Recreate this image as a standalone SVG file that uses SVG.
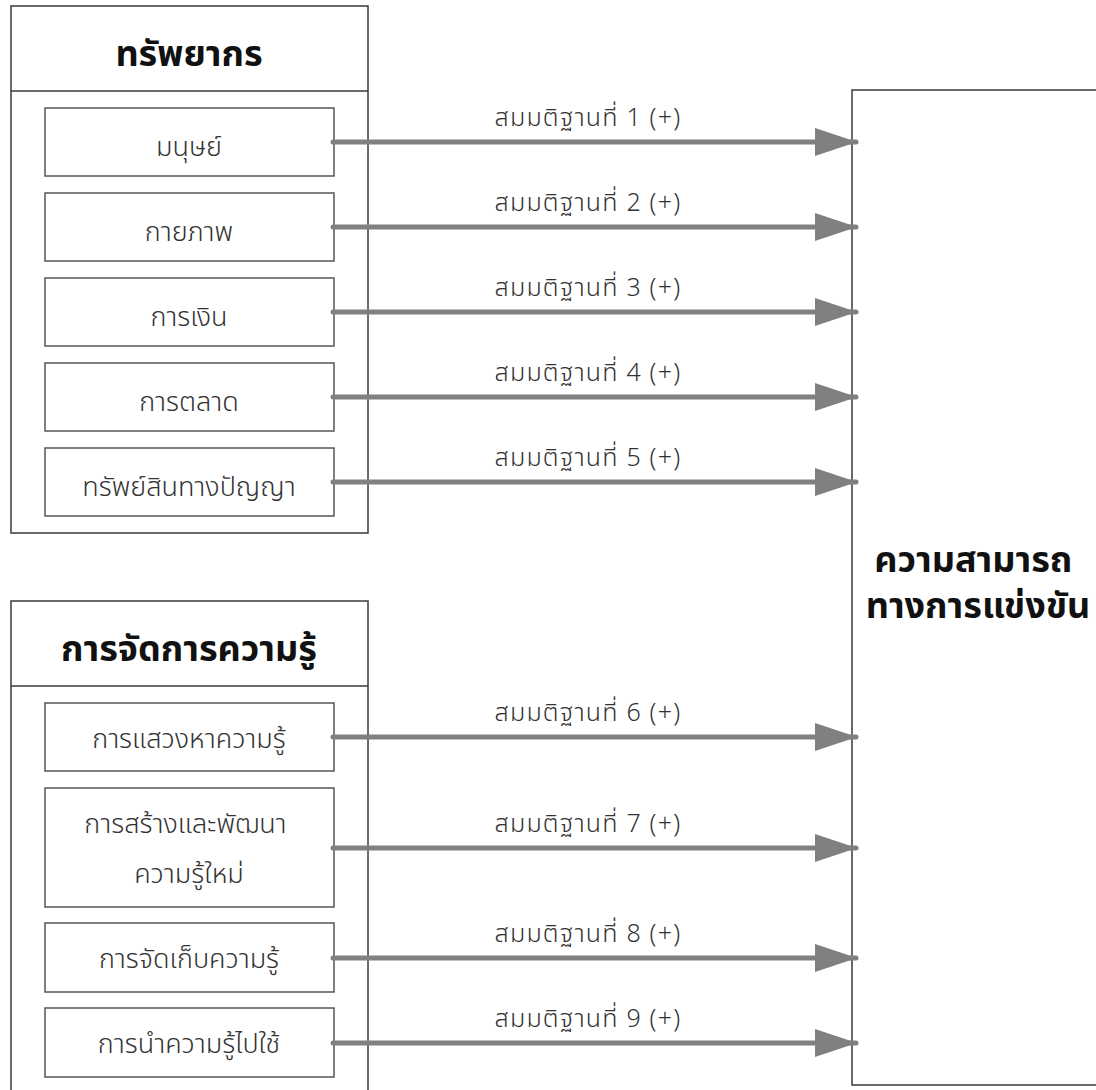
<svg xmlns="http://www.w3.org/2000/svg" width="1096" height="1090" viewBox="0 0 1096 1090">
  <defs>
    <style>
      .frame { fill: #ffffff; stroke: #3a3a3a; stroke-width: 1.5; }
      .item { fill: #ffffff; stroke: #555555; stroke-width: 1.5; }
      .title { font-family: "Noto Sans Thai", "Noto Sans", "DejaVu Sans", sans-serif; font-size: 36px; font-weight: bold; fill: #111111; text-anchor: middle; }
      .label { font-family: "Noto Sans Thai", "Noto Sans", "DejaVu Sans", sans-serif; font-size: 27px; font-weight: 300; fill: #333333; text-anchor: middle; }
      .hyp { font-family: "Noto Sans Thai", "Noto Sans", "DejaVu Sans", sans-serif; font-size: 25px; font-weight: 300; letter-spacing: 1.2px; fill: #333333; text-anchor: middle; }
      .big { font-family: "Noto Sans Thai", "Noto Sans", "DejaVu Sans", sans-serif; font-size: 36px; font-weight: bold; fill: #111111; text-anchor: middle; }
      .shaft { stroke: #808080; stroke-width: 5; stroke-linecap: round; fill: none; }
    </style>
    <marker id="head" viewBox="0 0 42 28" refX="41" refY="14" markerWidth="42" markerHeight="28" markerUnits="userSpaceOnUse" orient="auto">
      <path d="M0,0 L42,14 L0,28 Z" fill="#808080"/>
    </marker>
  </defs>

  <!-- outcome box on the right, running off the canvas edge -->
  <g id="competitiveness">
    <rect class="frame" x="852" y="90" width="260" height="995"/>
    <text class="big" x="978" y="572">
      <tspan x="978" y="572">ความสามารถ</tspan>
      <tspan x="978" y="618">ทางการแข่งขัน</tspan>
    </text>
  </g>

  <!-- resources group -->
  <g id="resources">
    <rect class="frame" x="11" y="6" width="357" height="527"/>
    <line x1="11" y1="91" x2="368" y2="91" stroke="#3a3a3a" stroke-width="1.5"/>
    <text class="title" x="189" y="66">ทรัพยากร</text>
  </g>
  <g id="human">
    <rect class="item" x="45" y="108" width="289" height="68"/>
    <text class="label" x="189" y="156">มนุษย์</text>
  </g>
  <g id="physical">
    <rect class="item" x="45" y="193" width="289" height="68"/>
    <text class="label" x="189" y="241">กายภาพ</text>
  </g>
  <g id="finance">
    <rect class="item" x="45" y="278" width="289" height="68"/>
    <text class="label" x="189" y="326">การเงิน</text>
  </g>
  <g id="marketing">
    <rect class="item" x="45" y="363" width="289" height="68"/>
    <text class="label" x="189" y="411">การตลาด</text>
  </g>
  <g id="intellectual">
    <rect class="item" x="45" y="448" width="289" height="68"/>
    <text class="label" x="189" y="496">ทรัพย์สินทางปัญญา</text>
  </g>

  <!-- knowledge management group -->
  <g id="knowledge">
    <rect class="frame" x="11" y="601" width="357" height="500"/>
    <line x1="11" y1="686" x2="368" y2="686" stroke="#3a3a3a" stroke-width="1.5"/>
    <text class="title" x="189" y="661">การจัดการความรู้</text>
  </g>
  <g id="acquire">
    <rect class="item" x="45" y="703" width="289" height="68"/>
    <text class="label" x="189" y="748">การแสวงหาความรู้</text>
  </g>
  <g id="create">
    <rect class="item" x="45" y="788" width="289" height="119"/>
    <text class="label" x="189" y="833">
      <tspan x="189" y="833">การสร้างและพัฒนา</tspan>
      <tspan x="189" y="883">ความรู้ใหม่</tspan>
    </text>
  </g>
  <g id="store">
    <rect class="item" x="45" y="923" width="289" height="69"/>
    <text class="label" x="189" y="968">การจัดเก็บความรู้</text>
  </g>
  <g id="apply">
    <rect class="item" x="45" y="1008" width="289" height="69"/>
    <text class="label" x="189" y="1053">การนำความรู้ไปใช้</text>
  </g>

  <!-- hypothesis arrows -->
  <g id="connectors">
    <line class="shaft" x1="333" y1="142" x2="856" y2="142" marker-end="url(#head)"/>
    <line class="shaft" x1="333" y1="227" x2="856" y2="227" marker-end="url(#head)"/>
    <line class="shaft" x1="333" y1="312" x2="856" y2="312" marker-end="url(#head)"/>
    <line class="shaft" x1="333" y1="397" x2="856" y2="397" marker-end="url(#head)"/>
    <line class="shaft" x1="333" y1="482" x2="856" y2="482" marker-end="url(#head)"/>
    <line class="shaft" x1="333" y1="737" x2="856" y2="737" marker-end="url(#head)"/>
    <line class="shaft" x1="333" y1="848" x2="856" y2="848" marker-end="url(#head)"/>
    <line class="shaft" x1="333" y1="958" x2="856" y2="958" marker-end="url(#head)"/>
    <line class="shaft" x1="333" y1="1043" x2="856" y2="1043" marker-end="url(#head)"/>
    <text class="hyp" x="588" y="126">สมมติฐานที่ 1 (+)</text>
    <text class="hyp" x="588" y="211">สมมติฐานที่ 2 (+)</text>
    <text class="hyp" x="588" y="296">สมมติฐานที่ 3 (+)</text>
    <text class="hyp" x="588" y="381">สมมติฐานที่ 4 (+)</text>
    <text class="hyp" x="588" y="466">สมมติฐานที่ 5 (+)</text>
    <text class="hyp" x="588" y="721">สมมติฐานที่ 6 (+)</text>
    <text class="hyp" x="588" y="832">สมมติฐานที่ 7 (+)</text>
    <text class="hyp" x="588" y="942">สมมติฐานที่ 8 (+)</text>
    <text class="hyp" x="588" y="1027">สมมติฐานที่ 9 (+)</text>
  </g>
</svg>
